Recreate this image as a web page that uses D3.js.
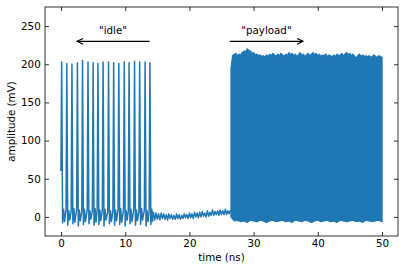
<!DOCTYPE html>
<html><head><meta charset="utf-8">
<script src="https://cdn.jsdelivr.net/npm/d3@7"></script>
<style>body{margin:0;background:#fff} svg{display:block}</style>
</head><body><svg id="c" width="406" height="272"></svg>
<script>
// ---- data ----
const xTicks = [0, 10, 20, 30, 40, 50];
const yTicks = [0, 50, 100, 150, 200, 250];
const xLabel = "time (ns)";
const yLabel = "amplitude (mV)";

// "idle" phase: individual spikes
const spikeTimes   = [0.0, 0.8, 1.6, 2.45, 3.25, 4.1, 4.9, 5.65, 6.45, 7.3, 8.1, 8.9, 9.75, 10.5, 11.35, 12.15, 13.0, 13.75];
const spikePeaks   = [203, 201, 200, 202, 205, 203, 202, 201, 203, 203, 202, 201, 203, 202, 204, 203, 203, 202];
const spikeTrough  = [-8, -11, -9, -12, -10, -9, -11, -10, -12, -9, -11, -10, -12, -9, -11, -10, -12, -10];
const spikeOnset   = [60, 9, 8, 10, 7, 9, 8, 10, 9, 7, 8, 10, 9, 8, 10, 7, 9, 8];
const spikeRebound = [10, 8, 11, 9, 10, 8, 11, 9, 10, 8, 9, 11, 8, 10, 9, 11, 8, 10];
const spikeDip     = [-6, -4, -7, -5, -6, -3, -7, -5, -4, -6, -5, -7, -4, -6, -5, -4, -6, -5];

// quiet gap between the phases (sampled every 0.2 ns from 14.0 ns)
const quietStart = 14.0, quietStep = 0.2;
const quietV = [8, -6, 6, -4, 5, -3, 4, -4, 5, -2,
                4, -3, 3, -4, 4, -2, 3, -3, 2, -3,
                4, -2, 3, -3, 2, -2, 4, -1, 3, -2,
                5, -1, 4, -2, 6, 0, 5, -1, 6, 0,
                7, 1, 5, 0, 8, 1, 6, 2, 9, 2,
                7, 3, 8, 2, 9, 3, 8, 3, 10, 3,
                8, 4, 9];

// "payload" phase: dense oscillation, upper and lower envelope
const payTopStart = 26.5, payTopStep = 0.25;
const payTop = [195, 211,
  213, 214, 211, 213,  212, 215, 217, 216,  220, 218, 217, 214,  215, 212, 213, 211,
  212, 210, 211, 209,  212, 210, 213, 211,  214, 212, 210, 213,  211, 214, 212, 210,
  213, 211, 215, 212,  214, 211, 213, 210,  212, 215, 211, 213,  210, 212, 214, 211,
  213, 215, 212, 214,  211, 213, 210, 212,  211, 213, 210, 212,  211, 209, 212, 210,
  213, 211, 212, 214,  211, 213, 215, 212,  214, 211, 213, 210,  208, 211, 213, 210,
  212, 210, 211, 209,  211, 209, 210, 212,  210, 209, 211, 210,  209];
const payBotStart = 26.5, payBotStep = 0.5;
const payBot = [0, -5, -4, -6, -5, -7, -4, -5, -6, -4, -5, -7, -5, -4, -6, -5, -4, -6,
                -5, -7, -4, -5, -6, -4, -5, -7, -5, -4, -6, -5, -4, -6, -5, -7, -4, -5,
                -6, -5, -4, -6, -5, -7, -4, -5, -6, -5, -4, -6];

// annotations
const annLabels = ['"idle"', '"payload"'];
const annTextX  = [8.1, 32.0];
const annTextY  = [240, 240];
const annFromX  = [13.8, 26.3];
const annToX    = [2.5, 37.7];
const annArrowY = [230, 230];

// ---- drawing ----
const color = "#1f77b4";
const font = "DejaVu Sans";
const fs = 10.3;
const svg = d3.select("#c");
const L = 45, R = 398, T = 7, B = 236;
const x = d3.scaleLinear().domain([-2.5, 52.5]).range([L, R]);
const y = d3.scaleLinear().domain([-25, 275]).range([B, T]);
const line = d3.line().x(d => x(d[0])).y(d => y(d[1]));

// idle + quiet trace
const pts = [];
spikeTimes.forEach((t, i) => {
  pts.push([t - 0.02, spikeOnset[i]]);
  pts.push([t + 0.1, spikePeaks[i]]);
  pts.push([t + 0.24, spikeTrough[i]]);
  pts.push([t + 0.4, spikeRebound[i]]);
  pts.push([t + 0.55, spikeDip[i]]);
});
quietV.forEach((v, i) => pts.push([quietStart + i * quietStep, v]));
svg.append("path").attr("d", line(pts)).attr("fill", "none")
  .attr("stroke", color).attr("stroke-width", 1.5).attr("stroke-linejoin", "round");

// payload envelope
const upperPts = payTop.map((v, i) => [payTopStart + i * payTopStep, v]);
const lowerPts = payBot.map((v, i) => [payBotStart + i * payBotStep, v]).reverse();
svg.append("path").attr("d", line(upperPts.concat(lowerPts)) + "Z")
  .attr("fill", color).attr("stroke", color).attr("stroke-width", 1.5).attr("stroke-linejoin", "round");

// axes
function style(g) {
  g.select(".domain").remove();
  g.selectAll("line").attr("stroke", "#000").attr("stroke-width", 0.8);
  g.selectAll("text").attr("font-family", font).attr("font-size", fs).attr("fill", "#000");
}
svg.append("g").attr("transform", `translate(0,${B})`)
  .call(d3.axisBottom(x).tickValues(xTicks).tickSize(-4).tickPadding(3.5)).call(style);
svg.append("g").attr("transform", `translate(0,${T})`)
  .call(d3.axisTop(x).tickValues(xTicks).tickSize(-4).tickFormat("")).call(style);
svg.append("g").attr("transform", `translate(${L},0)`)
  .call(d3.axisLeft(y).tickValues(yTicks).tickSize(-4).tickPadding(4.3)).call(style);
svg.append("g").attr("transform", `translate(${R},0)`)
  .call(d3.axisRight(y).tickValues(yTicks).tickSize(-4).tickFormat("")).call(style);
svg.append("rect").attr("x", L).attr("y", T).attr("width", R - L).attr("height", B - T)
  .attr("fill", "none").attr("stroke", "#000").attr("stroke-width", 0.8);

svg.append("text").attr("x", (L + R) / 2).attr("y", 261).attr("text-anchor", "middle")
  .attr("font-family", font).attr("font-size", fs).text(xLabel);
svg.append("text").attr("transform", `translate(14.5,${(T + B) / 2}) rotate(-90)`)
  .attr("text-anchor", "middle").attr("font-family", font).attr("font-size", fs).text(yLabel);

// annotations
annLabels.forEach((lab, i) => {
  svg.append("text").attr("x", x(annTextX[i])).attr("y", y(annTextY[i]))
    .attr("text-anchor", "middle").attr("font-family", font).attr("font-size", fs).text(lab);
  const x0 = x(annFromX[i]), x1 = x(annToX[i]), yy = y(annArrowY[i]);
  svg.append("line").attr("x1", x0).attr("y1", yy).attr("x2", x1).attr("y2", yy)
    .attr("stroke", "#000").attr("stroke-width", 1.1);
  const dir = x1 > x0 ? -1 : 1;
  svg.append("path").attr("d", `M${x1 + dir * 6},${yy - 2.8}L${x1},${yy}L${x1 + dir * 6},${yy + 2.8}`)
    .attr("fill", "none").attr("stroke", "#000").attr("stroke-width", 1.1);
});
</script></body></html>
